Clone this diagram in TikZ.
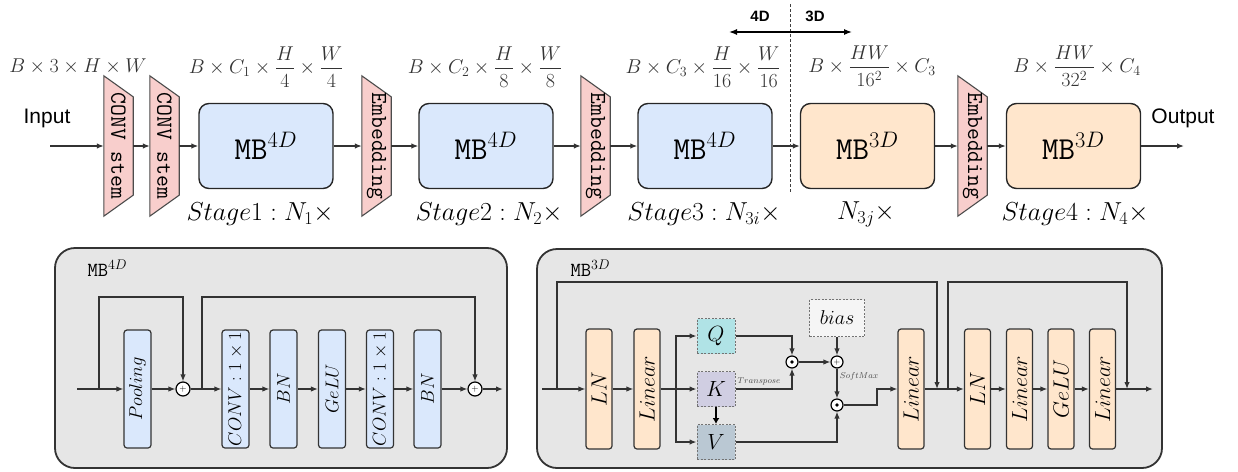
\RequirePackage{fix-cm}
\documentclass[tikz,border=0pt]{standalone}
\usepackage{amsmath}
\usepackage{fontspec}
\newfontfamily\sansf{Liberation Sans}
\usetikzlibrary{arrows.meta,backgrounds,calc}
\definecolor{bluef}{HTML}{DAE8FC}
\definecolor{orangef}{HTML}{FFE6CC}
\definecolor{pinkf}{HTML}{F8CECC}
\definecolor{panelf}{HTML}{E6E6E6}
\definecolor{qf}{HTML}{B0E3E6}
\definecolor{kf}{HTML}{D0CEE2}
\definecolor{vf}{HTML}{BAC8D3}
\definecolor{biasf}{HTML}{F5F5F5}
\tikzset{
  ln/.style={draw=black!80, line width=1.3pt},
  arr/.style={ln, -{Latex[length=7pt,width=5.5pt]}},
  mbbox/.style={draw=black!85, line width=1.4pt, rounded corners=10pt, minimum width=134pt, minimum height=85pt, inner sep=0pt, font=\fontsize{32}{34}\selectfont},
  trapn/.style={minimum width=29pt, minimum height=140pt, inner sep=0pt, font=\fontsize{23}{24}\selectfont\ttfamily},
  trapd/.style={draw=black!70, line width=1.1pt, fill=pinkf},
  dimlbl/.style={font=\fontsize{20}{24}\selectfont, text=black!80},
  stagelbl/.style={font=\fontsize{26}{28}\selectfont},
  panel/.style={draw=black!80, line width=1.8pt, fill=panelf, rounded corners=20pt},
  bb/.style={draw=black!80, line width=1.2pt, rounded corners=3pt, minimum width=27pt, minimum height=118pt, inner sep=0pt, fill=bluef, font=\fontsize{18.5}{20}\selectfont},
  ob/.style={bb, fill=orangef, minimum width=26pt, minimum height=120pt, font=\fontsize{22}{24}\selectfont},
  qkv/.style={draw=black!55, dash pattern=on 2pt off 1.5pt, line width=1pt, minimum width=38pt, minimum height=35pt, inner sep=0pt, font=\fontsize{22}{24}\selectfont},
  addc/.style={circle, draw=black, line width=1.2pt, fill=white, minimum size=14pt, inner sep=0pt, font=\fontsize{9}{9}\selectfont},
  dotc/.style={circle, draw=black, line width=1.2pt, fill=white, minimum size=12pt, inner sep=0pt, path picture={\fill[black] (path picture bounding box.center) circle (1.8pt);}},
  smlbl/.style={font=\fontsize{8.5}{9}\selectfont, text=black!70},
  sanslbl/.style={font=\fontsize{21}{24}\selectfont\sansf},
}
\begin{document}
\begin{tikzpicture}[x=1pt,y=-1pt]
\useasboundingbox (0,0) rectangle (1238,471);

% ---------------- top row ----------------
\node[sanslbl] (inlbl) at (47,118) {Input};
\node[sanslbl] (outlbl) at (1183,118) {Output};
\coordinate (in) at (50,146);
\coordinate (out) at (1184,146);

\node[trapn] (s1) at (118.5,146) {\rotatebox{-90}{CONV stem}};
\node[trapn] (s2) at (164.5,146) {\rotatebox{-90}{CONV stem}};
\node[trapn] (e1) at (376.5,146) {\rotatebox{-90}{Embedding}};
\node[trapn] (e2) at (595.5,146) {\rotatebox{-90}{Embedding}};
\node[trapn] (e3) at (972.5,146) {\rotatebox{-90}{Embedding}};
\begin{pgfonlayer}{background}
\foreach \n in {s1,s2,e1,e2,e3}{
  \filldraw[trapd] (\n.north west) -- ([yshift=-21pt]\n.north east) -- ([yshift=21pt]\n.south east) -- (\n.south west) -- cycle;
}
\end{pgfonlayer}

\node[mbbox, fill=bluef] (mb1) at (266,146) {\texttt{MB}$^{4D}$};
\node[mbbox, fill=bluef] (mb2) at (486,146) {\texttt{MB}$^{4D}$};
\node[mbbox, fill=bluef] (mb3) at (705,146) {\texttt{MB}$^{4D}$};
\node[mbbox, fill=orangef] (mb4) at (867.5,146) {\texttt{MB}$^{3D}$};
\node[mbbox, fill=orangef] (mb5) at (1073.5,146) {\texttt{MB}$^{3D}$};

\draw[arr] (in) -- (s1.west);
\draw[arr] (s1.east) -- (s2.west);
\draw[arr] (s2.east) -- (mb1.west);
\draw[arr] (mb1.east) -- (e1.west);
\draw[arr] (e1.east) -- (mb2.west);
\draw[arr] (mb2.east) -- (e2.west);
\draw[arr] (e2.east) -- (mb3.west);
\draw[arr] (mb3.east) -- (mb4.west);
\draw[arr] (mb4.east) -- (e3.west);
\draw[arr] (e3.east) -- (mb5.west);
\draw[arr] (mb5.east) -- (out);

\node[dimlbl] (d0) at (78,66) {$B\times 3\times H\times W$};
\node[dimlbl] (d1l) at (266,67) {$\displaystyle B\times C_1\times \frac{H}{4}\times \frac{W}{4}$};
\node[dimlbl] (d2l) at (485,67) {$\displaystyle B\times C_2\times \frac{H}{8}\times \frac{W}{8}$};
\node[dimlbl] (d3l) at (703,67) {$\displaystyle B\times C_3\times \frac{H}{16}\times \frac{W}{16}$};
\node[dimlbl] (d4l) at (872,66) {$\displaystyle B\times \frac{HW}{16^2}\times C_3$};
\node[dimlbl] (d5l) at (1077,66) {$\displaystyle B\times \frac{HW}{32^2}\times C_4$};

\node[stagelbl] (st1) at (260,214) {$Stage1:N_1\times$};
\node[stagelbl] (st2) at (489,214) {$Stage2:N_2\times$};
\node[stagelbl] (st3) at (704,214) {$Stage3:N_{3i}\times$};
\node[stagelbl] (st3j) at (866,214) {$N_{3j}\times$};
\node[stagelbl] (st4) at (1075,214) {$Stage4:N_4\times$};

\coordinate (dtop) at (790,4);
\coordinate (dbot) at (790,192);
\draw[black!75, line width=0.9pt, dash pattern=on 3pt off 2pt] (dtop) -- (dbot);
\coordinate (a4) at (729,32);
\coordinate (a3) at (852,32);
\draw[ln, draw=black, {Latex[length=8pt,width=6pt]}-{Latex[length=8pt,width=6pt]}] (a4) -- (a3);
\node[font=\fontsize{15}{16}\selectfont\sansf\bfseries] (t4d) at (760,16) {4D};
\node[font=\fontsize{15}{16}\selectfont\sansf\bfseries] (t3d) at (815,16) {3D};

% ---------------- bottom left panel ----------------
\node[panel, minimum width=452pt, minimum height=220pt] (pl) at (281,358) {};
\node[font=\fontsize{20}{22}\selectfont, anchor=west] (pllbl) at (84,268) {\texttt{MB}$^{4D}$};

\node[bb] (pool) at (137.5,389) {\rotatebox{90}{$Pooling$}};
\node[addc] (c1) at (183,389) {$+$};
\node[bb] (conv1) at (235.5,389) {\rotatebox{90}{$CONV:1\times 1$}};
\node[bb] (bn1) at (283.5,389) {\rotatebox{90}{$BN$}};
\node[bb] (gelu1) at (332,389) {\rotatebox{90}{$GeLU$}};
\node[bb] (conv2) at (380,389) {\rotatebox{90}{$CONV:1\times 1$}};
\node[bb] (bn2) at (427.5,389) {\rotatebox{90}{$BN$}};
\node[addc] (c2) at (475,389) {$+$};

\coordinate (L0) at (77,389);
\coordinate (Lb1) at (99,389);
\coordinate (Lt1) at (99,297);
\coordinate (Lb2) at (202,389);
\coordinate (Lt2) at (202,297);
\coordinate (L1) at (503,389);

\draw[arr] (L0) -- (pool.west);
\draw[arr] (pool.east) -- (c1.west);
\draw[arr] (c1.east) -- (conv1.west);
\draw[arr] (conv1.east) -- (bn1.west);
\draw[arr] (bn1.east) -- (gelu1.west);
\draw[arr] (gelu1.east) -- (conv2.west);
\draw[arr] (conv2.east) -- (bn2.west);
\draw[arr] (bn2.east) -- (c2.west);
\draw[arr] (c2.east) -- (L1);
\draw[arr] (Lb1) -- (Lt1) -| (c1.north);
\draw[arr] (Lb2) -- (Lt2) -| (c2.north);

% ---------------- bottom right panel ----------------
\node[panel, minimum width=625pt, minimum height=219pt] (pr) at (849.5,358.5) {};
\node[font=\fontsize{20}{22}\selectfont, anchor=west] (prlbl) at (567,268) {\texttt{MB}$^{3D}$};

\node[ob] (ln1) at (599,389) {\rotatebox{90}{$LN$}};
\node[ob] (lin1) at (647,389) {\rotatebox{90}{$Linear$}};
\node[qkv, fill=qf] (Q) at (716,336) {$Q$};
\node[qkv, fill=kf] (K) at (716,389) {$K$};
\node[qkv, fill=vf] (V) at (716,442) {$V$};
\node[qkv, fill=biasf, minimum width=55pt, minimum height=37pt, font=\fontsize{20}{22}\selectfont] (bias) at (837,318) {$bias$};
\node[dotc] (dd1) at (792,362) {};
\node[addc, minimum size=12pt, font=\fontsize{8}{8}\selectfont] (dd2) at (837,362) {$+$};
\node[dotc] (dd3) at (837,405) {};
\node[smlbl] (tp) at (759,381) {$Transpose$};
\node[smlbl] (sm) at (859,376) {$SoftMax$};
\node[ob] (lin2) at (911,389) {\rotatebox{90}{$Linear$}};
\node[ob] (ln2) at (977.5,389) {\rotatebox{90}{$LN$}};
\node[ob] (lin3) at (1019.5,389) {\rotatebox{90}{$Linear$}};
\node[ob] (gelu2) at (1061,389) {\rotatebox{90}{$GeLU$}};
\node[ob] (lin4) at (1102.5,389) {\rotatebox{90}{$Linear$}};

\coordinate (R0) at (542,389);
\coordinate (Rb1) at (557,389);
\coordinate (Rt1) at (557,282);
\coordinate (Rm1) at (937,389);
\coordinate (Rb2) at (948,389);
\coordinate (Rt2) at (948,282);
\coordinate (Rm2) at (1127,389);
\coordinate (R1) at (1153,389);
\coordinate (sp) at (676,389);
\coordinate (jn) at (877,389);

\draw[arr] (R0) -- (ln1.west);
\draw[arr] (ln1.east) -- (lin1.west);
\draw[arr] (lin1.east) -- (K.west);
\draw[arr] (sp) |- (Q.west);
\draw[arr] (sp) |- (V.west);
\draw[draw=black, line width=2.6pt, -{Latex[length=6pt,width=7pt]}] (K.south) -- (V.north);
\draw[arr] (Q.east) -| (dd1.north);
\draw[arr] (K.east) -| (dd1.south);
\draw[arr] (dd1.east) -- (dd2.west);
\draw[arr] (bias.south) -- (dd2.north);
\draw[arr] (dd2.south) -- (dd3.north);
\draw[arr] (V.east) -| (dd3.south);
\draw[arr] (dd3.east) -| (jn) -- (lin2.west);
\draw[arr] (lin2.east) -- (ln2.west);
\draw[arr] (ln2.east) -- (lin3.west);
\draw[arr] (lin3.east) -- (gelu2.west);
\draw[arr] (gelu2.east) -- (lin4.west);
\draw[arr] (lin4.east) -- (R1);
\draw[arr] (Rb1) -- (Rt1) -| (Rm1);
\draw[arr] (Rb2) -- (Rt2) -| (Rm2);
\end{tikzpicture}
\end{document}
